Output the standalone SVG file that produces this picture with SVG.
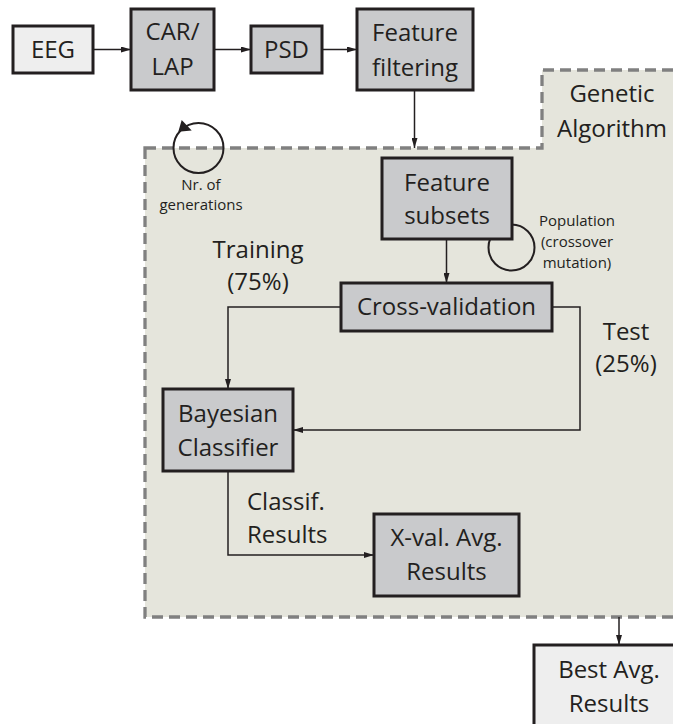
<svg xmlns="http://www.w3.org/2000/svg" width="673" height="724" viewBox="0 0 673 724">
<defs>
<marker id="ah" viewBox="0 0 10 6" refX="10" refY="3" markerWidth="10" markerHeight="6" markerUnits="userSpaceOnUse" orient="auto">
<path d="M0,0 L10,3 L0,6 Z" fill="#231f20"/>
</marker>
<style>
.node{fill:#c9cacc;stroke:#231f20;stroke-width:3}
.light{fill:#eeeeee;stroke:#231f20;stroke-width:3}
.t{font-family:"Open Sans","Noto Sans",sans-serif;font-size:24px;fill:#231f20;text-anchor:middle}
.s{font-family:"Open Sans","Noto Sans",sans-serif;font-size:15px;fill:#231f20;text-anchor:middle}
.c{fill:none;stroke:#231f20;stroke-width:1.5}
.loop{fill:none;stroke:#231f20;stroke-width:2}
</style>
</defs>
<rect width="673" height="724" fill="#ffffff"/>
<g id="genetic-algorithm">
<path d="M145,148 L542,148 L542,70 L700,70 L700,617 L145,617 Z" fill="#e5e5dc" stroke="#808080" stroke-width="3.3" stroke-dasharray="11,6"/>
<text class="t" x="612" y="102">Genetic</text>
<text class="t" x="612" y="137">Algorithm</text>
</g>
<g id="connectors">
<line class="c" x1="93" y1="49.5" x2="131" y2="49.5" marker-end="url(#ah)"/>
<line class="c" x1="214" y1="49.5" x2="251" y2="49.5" marker-end="url(#ah)"/>
<line class="c" x1="322" y1="49.5" x2="357" y2="49.5" marker-end="url(#ah)"/>
<line class="c" x1="414.5" y1="90" x2="414.5" y2="148" marker-end="url(#ah)"/>
<line class="c" x1="446.5" y1="239" x2="446.5" y2="283" marker-end="url(#ah)"/>
<polyline class="c" points="341,307 228,307 228,389" marker-end="url(#ah)"/>
<polyline class="c" points="552,307 580,307 580,430 293,430" marker-end="url(#ah)"/>
<polyline class="c" points="228,471 228,555 374,555" marker-end="url(#ah)"/>
<line class="c" x1="619" y1="617" x2="619" y2="645" marker-end="url(#ah)"/>
</g>
<g id="generations-loop">
<circle class="loop" cx="198.5" cy="148" r="25"/>
<polygon points="181.7,120 191.7,130.5 178.3,131.7" fill="#231f20"/>
<text class="s" x="201" y="190">Nr. of</text>
<text class="s" x="201" y="210">generations</text>
</g>
<g id="population-loop">
<circle class="loop" cx="511.5" cy="247.5" r="23"/>
<polygon points="497.7,222 505,231.3 493.3,232" fill="#231f20"/>
<text class="s" x="577" y="226">Population</text>
<text class="s" x="577" y="247">(crossover</text>
<text class="s" x="577" y="268">mutation)</text>
</g>
<g id="eeg">
<rect class="light" x="13" y="26" width="80" height="47"/>
<text class="t" x="53" y="58">EEG</text>
</g>
<g id="car-lap">
<rect class="node" x="131" y="9" width="83" height="81"/>
<text class="t" x="172.5" y="40">CAR/</text>
<text class="t" x="172.5" y="75">LAP</text>
</g>
<g id="psd">
<rect class="node" x="251" y="26" width="71" height="47"/>
<text class="t" x="286.5" y="58">PSD</text>
</g>
<g id="feature-filtering">
<rect class="node" x="357" y="9" width="116" height="81"/>
<text class="t" x="415" y="41">Feature</text>
<text class="t" x="415" y="76">filtering</text>
</g>
<g id="feature-subsets">
<rect class="node" x="382" y="158" width="130" height="81"/>
<text class="t" x="447" y="191">Feature</text>
<text class="t" x="447" y="224">subsets</text>
</g>
<g id="cross-validation">
<rect class="node" x="341" y="283" width="211" height="48"/>
<text class="t" x="446.5" y="315">Cross-validation</text>
</g>
<g id="training-label">
<text class="t" x="258" y="258">Training</text>
<text class="t" x="258" y="290">(75%)</text>
</g>
<g id="test-label">
<text class="t" x="626" y="340">Test</text>
<text class="t" x="626" y="372">(25%)</text>
</g>
<g id="bayesian-classifier">
<rect class="node" x="163" y="389" width="130" height="82"/>
<text class="t" x="228" y="422">Bayesian</text>
<text class="t" x="228" y="456">Classifier</text>
</g>
<g id="classif-label">
<text class="t" x="247" y="510" style="text-anchor:start">Classif.</text>
<text class="t" x="247" y="543" style="text-anchor:start">Results</text>
</g>
<g id="xval-avg-results">
<rect class="node" x="374" y="514" width="145" height="82"/>
<text class="t" x="446.5" y="546">X-val. Avg.</text>
<text class="t" x="446.5" y="580">Results</text>
</g>
<g id="best-avg-results">
<rect class="light" x="534" y="645" width="150" height="90"/>
<text class="t" x="609" y="678">Best Avg.</text>
<text class="t" x="609" y="712">Results</text>
</g>
</svg>
